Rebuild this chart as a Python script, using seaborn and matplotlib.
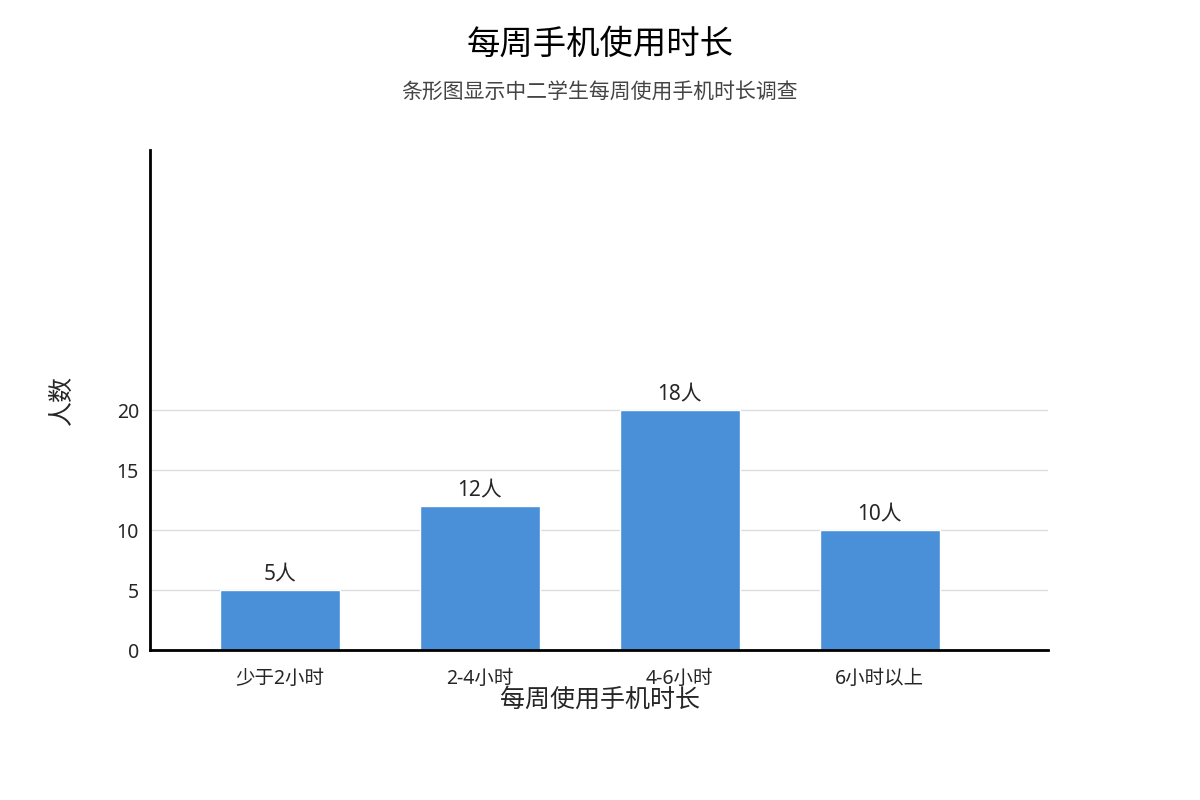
import matplotlib
matplotlib.use("Agg")
import matplotlib.pyplot as plt
import seaborn as sns
import pandas as pd

categories = ["少于2小时", "2-4小时", "4-6小时", "6小时以上"]
values = [5, 12, 20, 10]
bar_labels = ["5人", "12人", "18人", "10人"]

sns.set_style("white")
plt.rcParams['font.family'] = ['Noto Sans', 'Noto Sans CJK SC', 'DejaVu Sans']

df = pd.DataFrame({"cat": categories, "val": values})

fig = plt.figure(figsize=(12, 8), dpi=100)
ax = fig.add_axes([0.125, 0.1875, 0.748, 0.625])
sns.barplot(data=df, x="cat", y="val", color="#4a90d9", width=0.6, saturation=1, ax=ax)

ax.set_xlim(-0.65, 3.84)
ax.set_ylim(0, 41.7)
ax.set_yticks([0, 5, 10, 15, 20])
for t in [5, 10, 15, 20]:
    ax.axhline(t, color="#dddddd", lw=1, zorder=0)
ax.set_axisbelow(True)

for i, (v, lab) in enumerate(zip(values, bar_labels)):
    ax.text(i, v + 0.4, lab, ha="center", va="bottom", fontsize=15)

for s in ["top", "right"]:
    ax.spines[s].set_visible(False)
for s in ["left", "bottom"]:
    ax.spines[s].set_color("black")
    ax.spines[s].set_linewidth(2)
ax.tick_params(length=0, labelsize=14)
ax.tick_params(axis="x", pad=14)
ax.tick_params(axis="y", pad=8)

ax.set_xlabel("")
ax.set_ylabel("")
fig.text(0.5, 0.125, "每周使用手机时长", ha="center", va="center", fontsize=18)
fig.text(0.052, 0.5, "人数", ha="center", va="center", fontsize=18, rotation=90)

fig.text(0.5, 0.943, "每周手机使用时长", ha="center", va="center", fontsize=24, color="black")
fig.text(0.5, 0.885, "条形图显示中二学生每周使用手机时长调查", ha="center", va="center",
         fontsize=15, color="#444444")

fig.savefig("out.png", dpi=100)
